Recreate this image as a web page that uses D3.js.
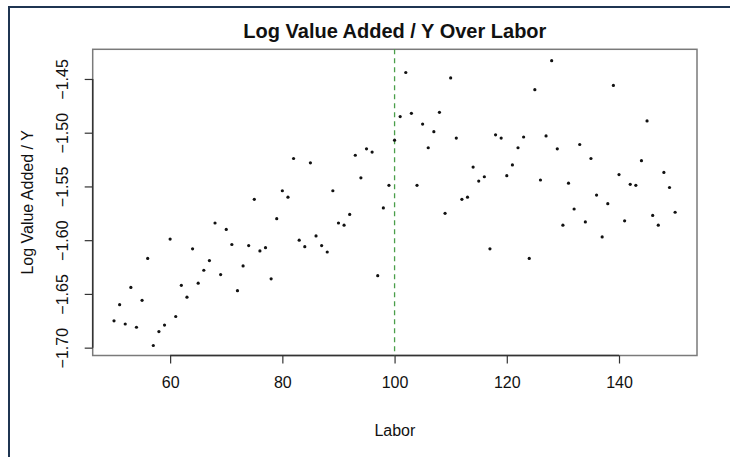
<!DOCTYPE html>
<html>
<head>
<meta charset="utf-8">
<script src="https://cdn.jsdelivr.net/npm/d3@7"></script>
<style>
  html, body { margin: 0; padding: 0; background: #fff; }
  svg { display: block; }
  text { font-family: "Liberation Sans", Arial, sans-serif; fill: #111; }
</style>
</head>
<body>
<svg id="chart" width="730" height="457"></svg>
<script>
// ---- data ----
const labor = d3.range(50, 151); // 50..150
const logValueAdded = [
  -1.675, -1.660, -1.678, -1.644, -1.681, -1.656, -1.617, -1.698, -1.685, -1.679,
  -1.599, -1.671, -1.642, -1.653, -1.608, -1.640, -1.628, -1.619, -1.584, -1.632,
  -1.590, -1.604, -1.647, -1.624, -1.605, -1.562, -1.610, -1.607, -1.636, -1.580,
  -1.554, -1.560, -1.524, -1.600, -1.606, -1.528, -1.596, -1.605, -1.611, -1.554,
  -1.584, -1.586, -1.576, -1.521, -1.542, -1.515, -1.518, -1.633, -1.570, -1.549,
  -1.507, -1.485, -1.444, -1.482, -1.549, -1.492, -1.514, -1.499, -1.481, -1.575,
  -1.449, -1.505, -1.562, -1.560, -1.532, -1.545, -1.541, -1.608, -1.502, -1.505,
  -1.540, -1.530, -1.514, -1.504, -1.617, -1.460, -1.544, -1.503, -1.433, -1.515,
  -1.586, -1.547, -1.571, -1.511, -1.583, -1.524, -1.558, -1.597, -1.566, -1.456,
  -1.539, -1.582, -1.548, -1.549, -1.526, -1.489, -1.577, -1.586, -1.537, -1.551,
  -1.574
];
const xTicks = [60, 80, 100, 120, 140];
const yTicks = [-1.70, -1.65, -1.60, -1.55, -1.50, -1.45];
const vLineAt = [100];
const titleText = "Log Value Added / Y Over Labor";
const xLabel = "Labor";
const yLabel = "Log Value Added / Y";

// ---- layout ----
const svg = d3.select("#chart");
const box = { left: 92.7, right: 697, top: 49.3, bottom: 355.5 };

const x = d3.scaleLinear().domain([46.2, 153.9]).range([box.left, box.right]);
const y = d3.scaleLinear().domain([-1.7073, -1.4224]).range([box.bottom, box.top]);

// outer frame (left + top)
svg.append("line").attr("x1", 9).attr("x2", 9).attr("y1", 7).attr("y2", 457)
  .attr("stroke", "#1f3552").attr("stroke-width", 2);
svg.append("line").attr("x1", 8).attr("x2", 730).attr("y1", 7).attr("y2", 7)
  .attr("stroke", "#1f3552").attr("stroke-width", 2);

// plot box
svg.append("rect")
  .attr("x", box.left).attr("y", box.top)
  .attr("width", box.right - box.left).attr("height", box.bottom - box.top)
  .attr("fill", "none").attr("stroke", "#7a7a7a").attr("stroke-width", 1.5);

// axes
const xAxis = d3.axisBottom(x).tickValues(xTicks).tickSize(8).tickPadding(13)
  .tickFormat(d3.format("d"));
const gx = svg.append("g").attr("transform", `translate(0,${box.bottom})`).call(xAxis);
gx.select(".domain").attr("d", `M${x(xTicks[0])},0H${x(xTicks[xTicks.length-1])}`)
  .attr("stroke", "#333").attr("stroke-width", 1.5);
gx.selectAll(".tick line").attr("stroke", "#333").attr("stroke-width", 1.2);
gx.selectAll(".tick text").attr("font-size", 16).attr("fill", "#111")
  .attr("font-family", "Liberation Sans, Arial, sans-serif");

const yAxis = d3.axisLeft(y).tickValues(yTicks).tickSize(8).tickFormat(d3.format(".2f"));
const gy = svg.append("g").attr("transform", `translate(${box.left},0)`).call(yAxis);
gy.select(".domain").attr("d", `M0,${y(yTicks[0])}V${y(yTicks[yTicks.length-1])}`)
  .attr("stroke", "#333").attr("stroke-width", 1.5);
gy.selectAll(".tick line").attr("stroke", "#333").attr("stroke-width", 1.2);
gy.selectAll(".tick text")
  .attr("font-size", 16).attr("fill", "#111")
  .attr("font-family", "Liberation Sans, Arial, sans-serif")
  .attr("x", null).attr("dy", null)
  .attr("text-anchor", "middle")
  .attr("transform", "translate(-30,0) rotate(-90)")
  .attr("dy", "0.35em");

// vertical dashed reference line
svg.selectAll(".vline").data(vLineAt).enter().append("line")
  .attr("class", "vline")
  .attr("x1", d => x(d)).attr("x2", d => x(d))
  .attr("y1", box.top).attr("y2", box.bottom)
  .attr("stroke", "#4a9e4a").attr("stroke-width", 1.3)
  .attr("stroke-dasharray", "5,4");

// points
svg.append("g").selectAll("circle")
  .data(labor.map((l, i) => ({ l, v: logValueAdded[i] })))
  .enter().append("circle")
  .attr("cx", d => x(d.l)).attr("cy", d => y(d.v))
  .attr("r", 1.6).attr("fill", "#111");

// title
svg.append("text").attr("x", (box.left + box.right) / 2).attr("y", 38)
  .attr("text-anchor", "middle").attr("font-size", 20).attr("font-weight", "bold")
  .text(titleText);

// axis titles
svg.append("text").attr("x", (box.left + box.right) / 2).attr("y", 436)
  .attr("text-anchor", "middle").attr("font-size", 16).text(xLabel);
svg.append("text")
  .attr("transform", `translate(33,${(box.top + box.bottom) / 2}) rotate(-90)`)
  .attr("text-anchor", "middle").attr("font-size", 16).text(yLabel);
</script>
</body>
</html>
